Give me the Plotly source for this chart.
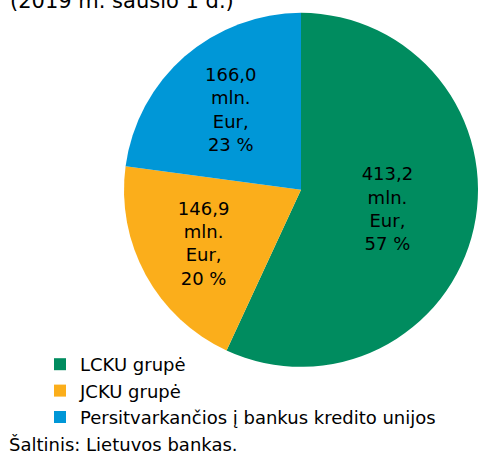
import plotly.graph_objects as go

labels = ["LCKU grupė", "JCKU grupė", "Persitvarkančios į bankus kredito unijos"]
values = [413.2, 146.9, 166.0]
value_text = ["413,2", "146,9", "166,0"]
percent_text = ["57 %", "20 %", "23 %"]
colors = ["#008C5F", "#FBAE1B", "#0097D7"]
title_text = "(2019 m. sausio 1 d.)"
source_text = "Šaltinis: Lietuvos bankas."

W, H = 478, 452
FONT = "DejaVu Sans, Verdana, sans-serif"

slice_text = [f"{v}<br>mln.<br>Eur,<br>{p}" for v, p in zip(value_text, percent_text)]

fig = go.Figure(go.Pie(
    labels=labels,
    values=values,
    text=slice_text,
    textinfo="text",
    textposition="inside",
    insidetextorientation="horizontal",
    textfont=dict(family=FONT, size=18, color="#000000"),
    marker=dict(colors=colors, line=dict(width=0)),
    sort=False,
    direction="clockwise",
    rotation=0,
    hoverinfo="skip",
    domain=dict(x=[0.2594, 1.0], y=[0.184, 0.976]),
))

fig.update_layout(
    width=W, height=H,
    margin=dict(l=0, r=0, t=0, b=0),
    paper_bgcolor="white",
    plot_bgcolor="white",
    font=dict(family=FONT, size=18, color="#000000"),
    showlegend=True,
    legend=dict(
        x=40 / W, xanchor="left",
        y=(H - 346) / H, yanchor="top",
        font=dict(family=FONT, size=18, color="#000000"),
        bgcolor="rgba(0,0,0,0)",
        itemwidth=30,
        traceorder="normal",
    ),
    annotations=[
        dict(text=title_text, xref="paper", yref="paper", x=8 / W, y=(H - 15) / H,
             xanchor="left", yanchor="bottom", showarrow=False,
             font=dict(family=FONT, size=21, color="#000000")),
        dict(text=source_text, xref="paper", yref="paper", x=7 / W, y=(H - 444) / H,
             xanchor="left", yanchor="middle", showarrow=False,
             font=dict(family=FONT, size=18, color="#000000")),
    ],
)

fig.write_html(
    "out.html",
    config={"displayModeBar": False},
    post_script="document.body.style.margin='0';document.body.style.overflow='hidden';",
)
